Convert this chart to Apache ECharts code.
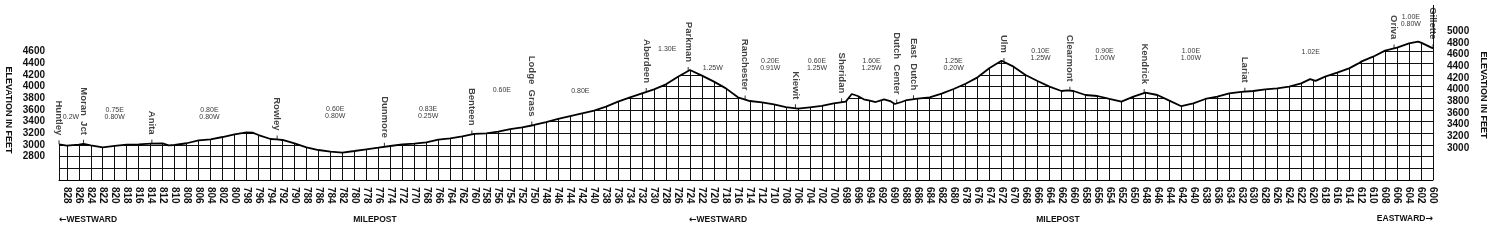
<!DOCTYPE html>
<html><head><meta charset="utf-8">
<script src="https://cdn.jsdelivr.net/npm/echarts@6/dist/echarts.min.js"></script>
<style>html,body{margin:0;padding:0;background:#fff}#c{width:1499px;height:249px}</style>
</head><body><div id="c"></div>
<script>
// ---- DATA ----
const mileposts = [829.3, 828, 826, 825.2, 824, 822, 820, 818, 816, 814, 812, 811, 810, 808, 806, 804, 802, 800, 798, 797, 796, 794, 793, 792, 790, 788, 786, 784, 782, 780, 778, 776, 774, 772, 770, 768, 766, 764, 762, 760, 758, 756, 754, 752, 750, 748, 746, 744, 742, 740, 738, 736, 734, 732, 730, 728, 726, 724, 722, 720, 718, 716, 714, 712, 710, 708, 706, 704, 702, 700, 698, 697, 696, 695, 694, 693, 692, 691.6, 690.6, 689.8, 688.7, 687.8, 686, 684, 682, 680, 678, 676, 674, 672, 670, 668, 666, 664, 662, 661, 660, 658, 656, 654, 652, 650, 648, 646, 644, 642, 640, 638, 636, 634, 632, 630, 628, 626, 624, 622, 620.5, 619.6, 618, 616, 614, 612.6, 612, 610, 608, 606, 604, 602.5, 602, 600];
const elevations = [3012, 2990, 3005, 3020, 2995, 2960, 2985, 3005, 3012, 3023, 3029, 2995, 3000, 3030, 3080, 3097, 3137, 3183, 3215, 3212, 3171, 3103, 3095, 3086, 3029, 2960, 2914, 2886, 2869, 2897, 2926, 2954, 2983, 3012, 3023, 3046, 3091, 3114, 3149, 3189, 3200, 3229, 3274, 3303, 3343, 3394, 3446, 3497, 3543, 3589, 3657, 3743, 3817, 3886, 3954, 4040, 4171, 4286, 4189, 4086, 3971, 3817, 3754, 3731, 3697, 3651, 3623, 3646, 3669, 3714, 3743, 3874, 3840, 3783, 3760, 3737, 3771, 3783, 3754, 3703, 3737, 3771, 3794, 3817, 3880, 3960, 4050, 4160, 4320, 4445, 4343, 4200, 4097, 4000, 3926, 3935, 3926, 3857, 3840, 3789, 3743, 3829, 3897, 3857, 3760, 3665, 3714, 3789, 3829, 3885, 3909, 3926, 3954, 3971, 4000, 4057, 4130, 4100, 4171, 4240, 4314, 4390, 4428, 4514, 4617, 4669, 4743, 4771, 4754, 4657];

const stationNames = ['Huntley', 'Moran  Jct', 'Anita', 'Rowley', 'Dunmore', 'Benteen', 'Lodge  Grass', 'Aberdeen', 'Parkman', 'Ranchester', 'Kiewit', 'Sheridan', 'Dutch  Center', 'East  Dutch', 'Ulm', 'Clearmont', 'Kendrick', 'Lariat', 'Oriva', 'Gillette'];
const stationMileposts = [829.3, 825.2, 813.8, 792.9, 775.0, 760.4, 750.4, 731.3, 724.3, 714.8, 706.4, 698.7, 689.5, 686.7, 671.6, 660.6, 648.2, 631.4, 606.5, 600];

const gradeTexts = ['0.2W', '0.75E\n0.80W', '0.80E\n0.80W', '0.60E\n0.80W', '0.83E\n0.25W', '0.60E', '0.80E', '1.30E', '1.25W', '0.20E\n0.91W', '0.60E\n1.25W', '1.60E\n1.25W', '1.25E\n0.20W', '0.10E\n1.25W', '0.90E\n1.00W', '1.00E\n1.00W', '1.02E', '1.00E\n0.80W'];
const gradeMileposts = [827.3, 820.0, 804.2, 783.2, 767.7, 755.4, 742.3, 727.8, 720.2, 710.6, 702.8, 693.7, 680.0, 665.5, 654.8, 640.4, 620.4, 603.7];
const gradeElevations = [3480, 3537, 3537, 3549, 3549, 3937, 3931, 4640, 4315, 4376, 4376, 4376, 4376, 4547, 4547, 4547, 4600, 5125];

const leftTickLabels = [2800, 3000, 3200, 3400, 3600, 3800, 4000, 4200, 4400, 4600];
const rightTickLabels = [3000, 3200, 3400, 3600, 3800, 4000, 4200, 4400, 4600, 4800, 5000];
const axisTitle = 'ELEVATION IN FEET';
const bottomTexts = ['←WESTWARD', 'MILEPOST', '←WESTWARD', 'MILEPOST', 'EASTWARD→'];

// ---- CHART ----
function elevAt(m) {
  for (let i = 0; i < mileposts.length - 1; i++) {
    const a = mileposts[i], b = mileposts[i + 1];
    if (m <= a && m >= b) {
      const t = (a - m) / (a - b);
      return elevations[i] + t * (elevations[i + 1] - elevations[i]);
    }
  }
  return elevations[elevations.length - 1];
}
const FONT = '"Liberation Sans", Arial, sans-serif';
// wrap arrow glyphs in a rich-text style so they render full-size
function richArrow(t) { return t.replace(/([←→])/g, '{ar|$1}'); }
const bottomRich = { ar: { fontFamily: '"DejaVu Sans", sans-serif', fontSize: 9, fill: '#111', fontWeight: 'bold' } };
function bottomText(i, x, y, align) {
  return { type: 'text', x: x, y: y, style: { text: richArrow(bottomTexts[i]), rich: bottomRich, font: 'bold 8.5px ' + FONT, fill: '#111', align: align, verticalAlign: 'middle' } };
}
const chart = echarts.init(document.getElementById('c'), null, { renderer: 'canvas' });
const option = {
  animation: false,
  backgroundColor: '#fff',
  grid: { left: 59, right: 66, top: 5, bottom: 69, containLabel: false, outerBoundsMode: 'none' },
  xAxis: {
    type: 'value', inverse: true, min: 600, max: 829.3, interval: 2,
    axisLine: { show: true, lineStyle: { color: '#000', width: 1 } },
    axisTick: { show: false },
    axisLabel: {
      rotate: -90, margin: 7, fontSize: 10, fontWeight: 'bold', color: '#111', fontFamily: FONT,
      formatter: v => (Math.abs(v - Math.round(v)) < 1e-6 && Math.round(v) % 2 === 0) ? String(Math.round(v)) : ''
    },
    splitLine: { show: true, lineStyle: { color: '#111', width: 1 } }
  },
  yAxis: [
    {
      type: 'value', min: 2400, max: 5400, interval: 200, position: 'left',
      axisLine: { show: false }, axisTick: { show: false },
      axisLabel: { margin: 14, fontSize: 10, fontWeight: 'bold', color: '#111', fontFamily: FONT,
        formatter: v => leftTickLabels.includes(v) ? String(v) : '' },
      splitLine: { show: true, lineStyle: { color: '#111', width: 1 } }
    },
    {
      type: 'value', min: 2450, max: 5450, interval: 50, position: 'right',
      axisLine: { show: false }, axisTick: { show: false },
      axisLabel: { margin: 14, fontSize: 10, fontWeight: 'bold', color: '#111', fontFamily: FONT,
        formatter: v => rightTickLabels.includes(v) ? String(v) : '' },
      splitLine: { show: false }
    }
  ],
  series: [
    {
      type: 'line', z: 2,
      data: mileposts.map((m, i) => [m, elevations[i]]),
      symbol: 'none',
      lineStyle: { color: '#000', width: 1.8 },
      areaStyle: { color: '#fff', opacity: 1, origin: 'end' }
    },
    {
      type: 'scatter', z: 5, clip: false,
      data: stationMileposts.map((m, i) => ({ name: stationNames[i], value: [m, elevAt(m)] })),
      symbol: 'rect', symbolSize: [1, 4], symbolOffset: [0, -2],
      itemStyle: { color: '#000' },
      label: {
        show: true, formatter: '{b}', position: 'top', distance: 5,
        rotate: -90, align: 'right', verticalAlign: 'middle',
        fontSize: 9.5, fontWeight: 'bold', color: '#111', fontFamily: FONT
      }
    },
    {
      type: 'scatter', z: 5, clip: false,
      data: gradeMileposts.map((m, i) => ({ name: gradeTexts[i], value: [m, gradeElevations[i]] })),
      symbolSize: 0,
      label: {
        show: true, formatter: '{b}', position: 'inside',
        align: 'center', verticalAlign: 'middle',
        fontSize: 7, lineHeight: 7, color: '#000', fontFamily: FONT
      }
    }
  ],
  graphic: [
    bottomText(0, 59, 220, 'left'),
    bottomText(1, 375, 220, 'center'),
    bottomText(2, 689, 220, 'left'),
    bottomText(3, 1058, 220, 'center'),
    bottomText(4, 1433, 219, 'right'),
    { type: 'text', x: 8, y: 110, rotation: -Math.PI / 2, style: { text: axisTitle, font: 'bold 9px ' + FONT, fill: '#111', align: 'center', verticalAlign: 'middle' } },
    { type: 'text', x: 1483, y: 95, rotation: -Math.PI / 2, style: { text: axisTitle, font: 'bold 9px ' + FONT, fill: '#111', align: 'center', verticalAlign: 'middle' } }
  ]
};
chart.setOption(option);
</script></body></html>
